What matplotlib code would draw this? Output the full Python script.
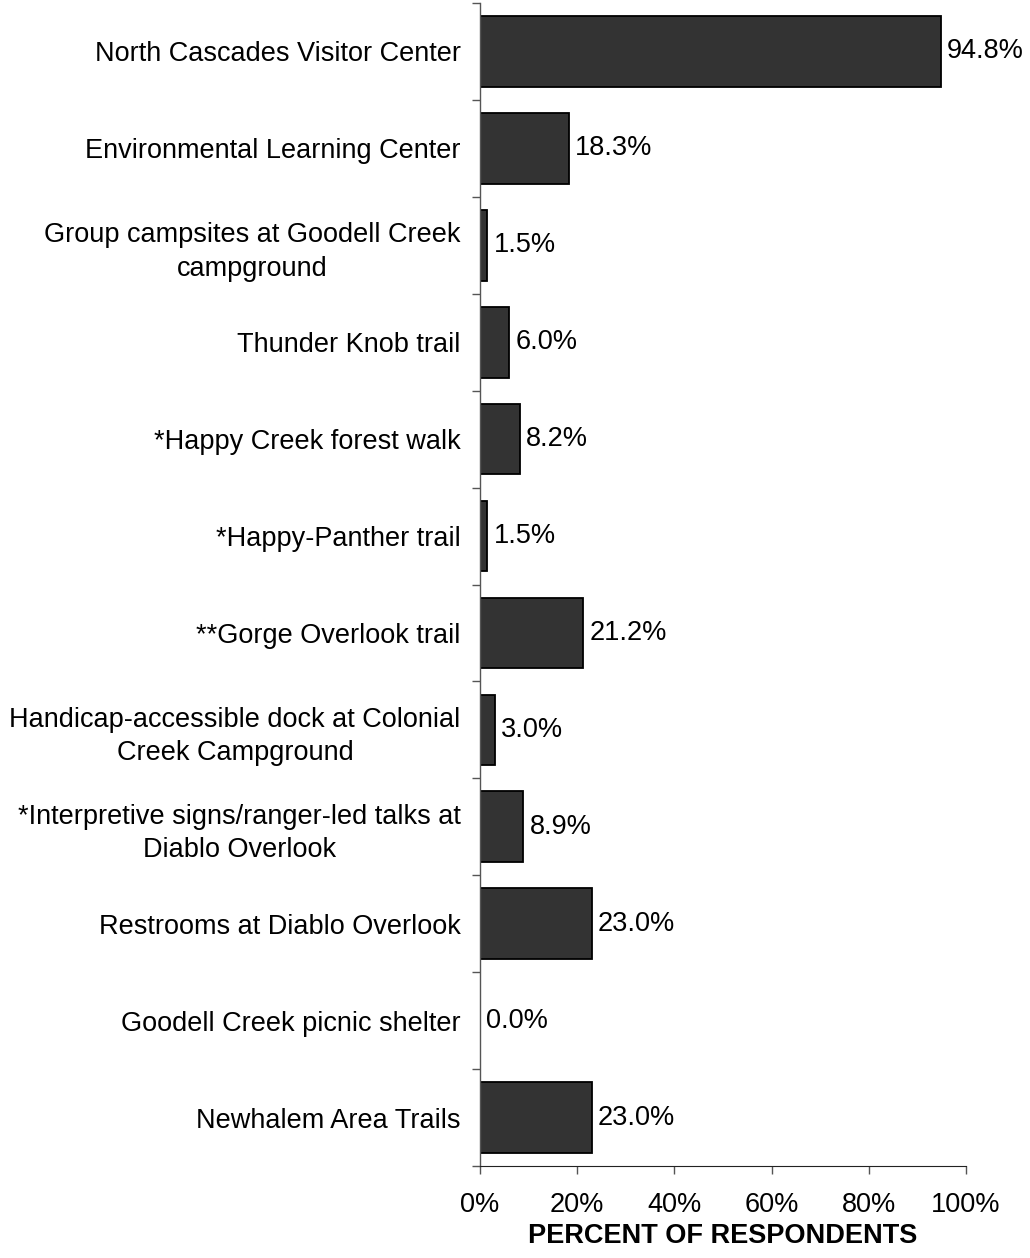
import matplotlib
matplotlib.use("Agg")
import matplotlib.pyplot as plt
import numpy as np
from matplotlib.ticker import FixedLocator, NullFormatter, FixedFormatter

categories = [
    "North Cascades Visitor Center",
    "Environmental Learning Center",
    "Group campsites at Goodell Creek\ncampground",
    "Thunder Knob trail",
    "*Happy Creek forest walk",
    "*Happy-Panther trail",
    "**Gorge Overlook trail",
    "Handicap-accessible dock at Colonial\nCreek Campground",
    "*Interpretive signs/ranger-led talks at\nDiablo Overlook",
    "Restrooms at Diablo Overlook",
    "Goodell Creek picnic shelter",
    "Newhalem Area Trails",
]
values = [94.8, 18.3, 1.5, 6.0, 8.2, 1.5, 21.2, 3.0, 8.9, 23.0, 0.0, 23.0]
xticks = [0, 20, 40, 60, 80, 100]
xticklabels = ["0%", "20%", "40%", "60%", "80%", "100%"]

FS = 19.5
plt.rcParams['font.family'] = ['Liberation Sans', 'DejaVu Sans']

fig = plt.figure(figsize=(10.30, 12.58), dpi=100)
ax = fig.add_axes([480/1030, 1-1166/1258, (966-480)/1030, (1166-3)/1258])

n = len(categories)
y = np.arange(n)
ax.barh(y, values, height=0.73, color="#333333", edgecolor="black", linewidth=1.3)
for yi, v in zip(y, values):
    ax.text(v + 1.3, yi, f"{v:.1f}%", va="center", ha="left", fontsize=FS)

ax.set_ylim(n - 0.5, -0.5)
ax.set_xlim(0, 100)

ax.yaxis.set_major_locator(FixedLocator(np.arange(n + 1) - 0.5))
ax.yaxis.set_major_formatter(NullFormatter())
ax.yaxis.set_minor_locator(FixedLocator(y))
ax.yaxis.set_minor_formatter(FixedFormatter(categories))
ax.tick_params(axis="y", which="major", length=6, width=1, direction="out", color="#555555")
ax.tick_params(axis="y", which="minor", length=0, pad=14, labelsize=FS)
for lbl in ax.yaxis.get_minorticklabels():
    lbl.set_multialignment("center")
    lbl.set_linespacing(1.38)

ax.set_xticks(xticks)
ax.set_xticklabels(xticklabels)
ax.tick_params(axis="x", length=6, width=1, direction="out", pad=13, labelsize=FS, color="#555555")
ax.set_xlabel("PERCENT OF RESPONDENTS", fontsize=FS, fontweight="bold", labelpad=3)

for s in ["top", "right"]:
    ax.spines[s].set_visible(False)
ax.spines["left"].set_color("#555555")
ax.spines["bottom"].set_color("#222222")
ax.spines["left"].set_linewidth(1)

fig.savefig("out.png", dpi=100)
